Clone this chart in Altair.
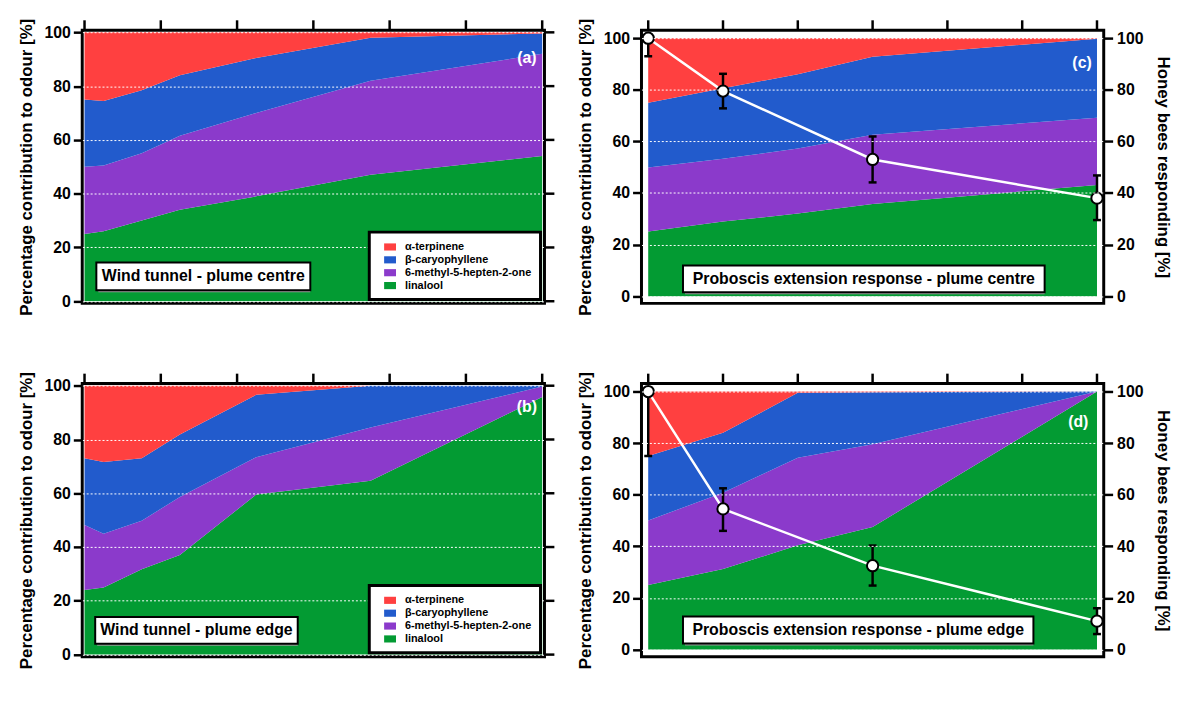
import altair as alt
import pandas as pd

# ---------------- data ----------------
COMPOUNDS = ["α-terpinene", "β-caryophyllene", "6-methyl-5-hepten-2-one", "linalool"]
COLORS = ["#FF4040", "#225BCC", "#8B3ACB", "#039B33"]

# Wind tunnel sampling distances [m]
X_WT = [0, 0.5, 1.5, 2.5, 4.5, 7.5, 12]
# cumulative upper boundary of each layer (%), bottom to top
A_LINALOOL = [25, 26, 30, 34, 39, 47, 54]
A_METHYL = [50, 50.5, 55, 61.5, 70, 82, 92]
A_CARYO = [75, 74.5, 78.5, 84, 90.5, 98, 99.6]
A_TERP = [100, 100, 100, 100, 100, 100, 100]

B_LINALOOL = [24, 25, 31.7, 37, 59.5, 64.7, 95.8]
B_METHYL = [48.2, 44.9, 49.8, 58.6, 73.4, 84.5, 99.7]
B_CARYO = [73, 71.6, 73, 81.9, 96.6, 100, 100]
B_TERP = [100, 100, 100, 100, 100, 100, 100]

# Proboscis extension response distances [m]
X_PER = [0, 2, 4, 6, 12]
C_LINALOOL = [25.1, 28.9, 32, 35.7, 43.1]
C_METHYL = [49.9, 53.3, 57.2, 62.6, 69.2]
C_CARYO = [75, 80.6, 86, 92.8, 99.8]
C_TERP = [100, 100, 100, 100, 100]

D_LINALOOL = [25, 31.2, 40.4, 47.5, 100]
D_METHYL = [50, 60.8, 74.3, 79.6, 100]
D_CARYO = [75, 84, 99.5, 99.7, 100]
D_TERP = [100, 100, 100, 100, 100]

# Honey bees responding [%]
X_BEES = [0, 2, 6, 12]
C_BEES = [100, 79.5, 53, 38]
C_LO = [93, 72.8, 44.1, 29.5]
C_HI = [100, 86.2, 61.9, 46.8]
D_BEES = [100, 54.5, 32.5, 11]
D_LO = [75, 46, 24.8, 6]
D_HI = [100, 62.5, 40.3, 16]

# annotations
LETTERS = ["(a)", "(b)", "(c)", "(d)"]
BOX_TEXT = ["Wind tunnel - plume centre", "Wind tunnel - plume edge",
            "Proboscis extension response - plume centre",
            "Proboscis extension response - plume edge"]

X_TICKS = [0, 2, 4, 6, 8, 10, 12]
Y_TICKS = [0, 20, 40, 60, 80, 100]
X_TITLE = "Distance from source [m]"
Y_TITLE = "Percentage contribution to odour [%]"
R_TITLE = "Honey bees responding [%]"

FONT = "Liberation Sans"
W, H = 467, 276
TICK_LEN = 10


def layers_df(xs, tops):
    rows = []
    lower = [0] * len(xs)
    names = COMPOUNDS[::-1]  # bottom to top
    for name, top in zip(names, tops):
        for x, lo, hi in zip(xs, lower, top):
            rows.append({"x": x, "compound": name, "lo": lo, "hi": hi})
        lower = top
    return pd.DataFrame(rows)


def panel(xs, tops, letter, letter_pos, box_text, box, xdom, ydom,
          legend=False, bees=None):
    xs_ = alt.Scale(domain=xdom, nice=False, zero=False)
    ys_ = alt.Scale(domain=ydom, nice=False, zero=False)
    df = layers_df(xs, tops)

    leg = None
    if legend:
        leg = alt.Legend(orient="bottom-right", offset=4, title=None,
                         strokeColor="black", fillColor="white",
                         padding=9, symbolType="M-1,-0.6H1V0.6H-1Z",
                         symbolSize=144, symbolStrokeWidth=0, symbolOpacity=1,
                         symbolOffset=6, labelOffset=9, rowPadding=2,
                         labelFont=FONT, labelFontSize=11, labelFontWeight="bold",
                         labelColor="black", zindex=2)

    area = alt.Chart(df).mark_area(interpolate="linear", opacity=1).encode(
        x=alt.X("x:Q", scale=xs_,
                axis=alt.Axis(orient="bottom", values=X_TICKS, title=X_TITLE,
                              labelFlush=False, labelPadding=6, titlePadding=4)),
        y=alt.Y("hi:Q", scale=ys_,
                axis=alt.Axis(orient="left", values=Y_TICKS, title=Y_TITLE,
                              grid=True, gridColor="white", gridDash=[2, 2],
                              gridWidth=1, zindex=1, labelPadding=3,
                              titlePadding=9)),
        y2="lo:Q",
        color=alt.Color("compound:N",
                        scale=alt.Scale(domain=COMPOUNDS, range=COLORS),
                        legend=leg),
    )

    # mirrored tick marks on the top edge (and right edge for a/b)
    tdf = pd.DataFrame({"t": X_TICKS})
    top_ticks = alt.Chart(tdf).mark_rule(color="black", strokeWidth=2.5).encode(
        x=alt.X("t:Q", scale=xs_, axis=None),
        y=alt.value(-TICK_LEN), y2=alt.value(0))

    parts = [area, top_ticks]

    if bees is None:
        rdf = pd.DataFrame({"v": Y_TICKS})
        right_ticks = alt.Chart(rdf).mark_rule(color="black",
                                               strokeWidth=2.5).encode(
            y=alt.Y("v:Q", scale=ys_, axis=None),
            x=alt.value(W), x2=alt.value(W + TICK_LEN))
        parts.append(right_ticks)

    bdf = pd.DataFrame([{"x1": box[0], "x2": box[1], "y1": box[2], "y2": box[3],
                         "tx": (box[0] + box[1]) / 2, "ty": (box[2] + box[3]) / 2,
                         "label": box_text}])
    shadow = alt.Chart(bdf).mark_rect(fill="#9a9a9a", xOffset=2, yOffset=2).encode(
        x=alt.X("x1:Q", scale=xs_, axis=None), x2="x2:Q",
        y=alt.Y("y1:Q", scale=ys_, axis=None), y2="y2:Q")
    boxr = alt.Chart(bdf).mark_rect(fill="white", stroke="black",
                                    strokeWidth=2).encode(
        x=alt.X("x1:Q", scale=xs_, axis=None), x2="x2:Q",
        y=alt.Y("y1:Q", scale=ys_, axis=None), y2="y2:Q")
    boxt = alt.Chart(bdf).mark_text(font=FONT, fontSize=16, fontWeight="bold",
                                    color="black", align="center",
                                    baseline="middle").encode(
        x=alt.X("tx:Q", scale=xs_, axis=None),
        y=alt.Y("ty:Q", scale=ys_, axis=None), text="label:N")

    ldf = pd.DataFrame([{"x": letter_pos[0], "y": letter_pos[1], "t": letter}])
    let = alt.Chart(ldf).mark_text(font=FONT, fontSize=16, fontWeight="bold",
                                   color="white", align="center",
                                   baseline="middle").encode(
        x=alt.X("x:Q", scale=xs_, axis=None),
        y=alt.Y("y:Q", scale=ys_, axis=None), text="t:N")

    parts += [shadow, boxr, boxt, let]

    if bees is not None:
        bx, bv, blo, bhi = bees
        bees_df = pd.DataFrame({"x": bx, "v": bv, "lo": blo, "hi": bhi})
        base = alt.Chart(bees_df)
        X = alt.X("x:Q", scale=xs_, axis=None)
        line = base.mark_line(color="white", strokeWidth=2.5).encode(
            x=X, y=alt.Y("v:Q", scale=ys_, axis=None))
        err = base.mark_rule(color="black", strokeWidth=2.5).encode(
            x=X, y=alt.Y("lo:Q", scale=ys_, axis=None), y2="hi:Q")
        cap_lo = base.mark_tick(orient="horizontal", size=8, thickness=2.5,
                                color="black", opacity=1).encode(
            x=X, y=alt.Y("lo:Q", scale=ys_, axis=None))
        cap_hi = base.mark_tick(orient="horizontal", size=8, thickness=2.5,
                                color="black", opacity=1).encode(
            x=X, y=alt.Y("hi:Q", scale=ys_, axis=None))
        pts = base.mark_point(shape="circle", filled=True, fill="white",
                              stroke="black", strokeWidth=2, size=130,
                              opacity=1).encode(
            x=X, y=alt.Y("v:Q", scale=ys_, axis=None))
        # right-hand axis for the bee response (same 0-100 range)
        right = alt.Chart(bees_df).mark_point(opacity=0).encode(
            x=alt.X("x:Q", scale=xs_, axis=None),
            y=alt.Y("v:Q", scale=ys_,
                    axis=alt.Axis(orient="right", values=Y_TICKS, title=R_TITLE,
                                  titleAngle=90, labelPadding=4,
                                  titlePadding=11)))
        parts += [line, err, cap_lo, cap_hi, pts, right]

    return alt.layer(*parts).resolve_axis(y="independent") \
        .properties(width=W, height=H)


WT_X = [-0.06, 12.06]
WT_Y = [-0.8, 100.8]
PER_X = [-0.18, 12.18]
PER_Y = [-2.8, 103.1]

pa = panel(X_WT, [A_LINALOOL, A_METHYL, A_CARYO, A_TERP], LETTERS[0], (11.6, 90.5),
           BOX_TEXT[0], (0.31, 5.92, 4.1, 14.4), WT_X, WT_Y, legend=True)
pb = panel(X_WT, [B_LINALOOL, B_METHYL, B_CARYO, B_TERP], LETTERS[1], (11.6, 92),
           BOX_TEXT[1], (0.28, 5.59, 4.0, 14.0), WT_X, WT_Y, legend=True)
pc = panel(X_PER, [C_LINALOOL, C_METHYL, C_CARYO, C_TERP], LETTERS[2], (11.6, 90.4),
           BOX_TEXT[2], (0.93, 10.6, 1.5, 11.9), PER_X, PER_Y,
           bees=(X_BEES, C_BEES, C_LO, C_HI))
pd_ = panel(X_PER, [D_LINALOOL, D_METHYL, D_CARYO, D_TERP], LETTERS[3], (11.5, 88),
            BOX_TEXT[3], (0.93, 10.3, 2.3, 12.8), PER_X, PER_Y,
            bees=(X_BEES, D_BEES, D_LO, D_HI))

chart = alt.concat(pa, pc, pb, pd_, columns=2,
                   spacing={"row": 81, "column": 98}, bounds="flush") \
    .resolve_legend(color="independent") \
    .properties(padding={"left": 7, "top": 5, "right": 0, "bottom": 0},
                background="white") \
    .configure_view(stroke="black", strokeWidth=3) \
    .configure_legend(strokeWidth=3) \
    .configure_axis(domain=False, tickColor="black", tickWidth=2.5, tickSize=9,
                    labelFont=FONT, labelFontWeight="bold", labelFontSize=16,
                    labelColor="black", titleFont=FONT, titleFontWeight="bold",
                    titleFontSize=17, titleColor="black", grid=False,
                    labelOverlap=False)

chart.save("out.html", embed_options={"renderer": "svg", "actions": False})
